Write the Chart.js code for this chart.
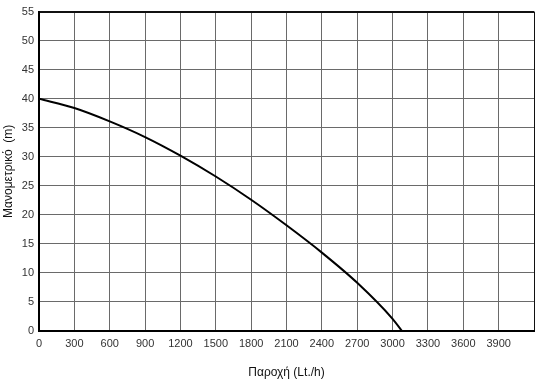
<!DOCTYPE html>
<html>
<head>
<meta charset="utf-8">
<script src="https://cdn.jsdelivr.net/npm/chart.js@4"></script>
<style>
  html, body { margin: 0; padding: 0; background: #fff; }
  #wrap { width: 540px; height: 382px; }
</style>
</head>
<body>
<div id="wrap"><canvas id="graficoBomba"></canvas></div>
<script>
// Dados (vazão em Lt./h, altura manométrica em m)
const paroxi = [0, 300, 600, 900, 1200, 1500, 1800, 2100, 2400, 2700, 3000, 3080];
const manometriko = [40, 38.4, 36.1, 33.4, 30.2, 26.6, 22.6, 18.2, 13.5, 8.3, 2.1, 0];

const tituloX = 'Παροχή (Lt./h)';
const tituloY = 'Μανομετρικό  (m)';

Chart.defaults.font.family = '"Liberation Sans", Arial, sans-serif';
Chart.defaults.color = '#333';

const pontos = paroxi.map((x, i) => ({ x: x, y: manometriko[i] }));

// cor da grade: linha da borda mais escura
function corGrade(ctx, max) {
    return ctx.tick && ctx.tick.value === max ? '#111' : '#6a6a6a';
}

new Chart(document.getElementById('graficoBomba').getContext('2d'), {
    type: 'line',
    data: {
        datasets: [{
            data: pontos,
            borderColor: '#000',
            borderWidth: 2,
            pointRadius: 0,
            fill: false,
            cubicInterpolationMode: 'monotone'
        }]
    },
    options: {
        responsive: true,
        maintainAspectRatio: false,
        animation: false,
        layout: { padding: { top: 4, right: 4, left: 0, bottom: 0 } },
        plugins: { legend: { display: false }, tooltip: { enabled: false } },
        scales: {
            x: {
                type: 'linear',
                min: 0,
                max: 4200,
                afterFit: (s) => { s.height = 51; },
                border: { color: '#000', width: 2 },
                grid: {
                    drawTicks: false,
                    color: (ctx) => corGrade(ctx, 4200),
                    lineWidth: 1
                },
                ticks: {
                    stepSize: 300,
                    padding: 6,
                    maxRotation: 0,
                    autoSkip: false,
                    font: { size: 11 },
                    callback: (v) => (v === 4200 ? '' : v)
                },
                title: {
                    display: true,
                    text: tituloX,
                    font: { size: 12 },
                    color: '#111',
                    padding: { top: 0, bottom: 2 }
                }
            },
            y: {
                min: 0,
                max: 55,
                afterFit: (s) => { s.width = 39; },
                border: { color: '#000', width: 2 },
                grid: {
                    drawTicks: false,
                    color: (ctx) => corGrade(ctx, 55),
                    lineWidth: (ctx) => (ctx.tick && ctx.tick.value === 55 ? 2 : 1)
                },
                ticks: {
                    stepSize: 5,
                    padding: 5,
                    font: { size: 11 }
                },
                title: {
                    display: true,
                    text: tituloY,
                    font: { size: 12 },
                    color: '#111',
                    padding: { top: 1, bottom: 0 }
                }
            }
        }
    }
});
</script>
</body>
</html>
